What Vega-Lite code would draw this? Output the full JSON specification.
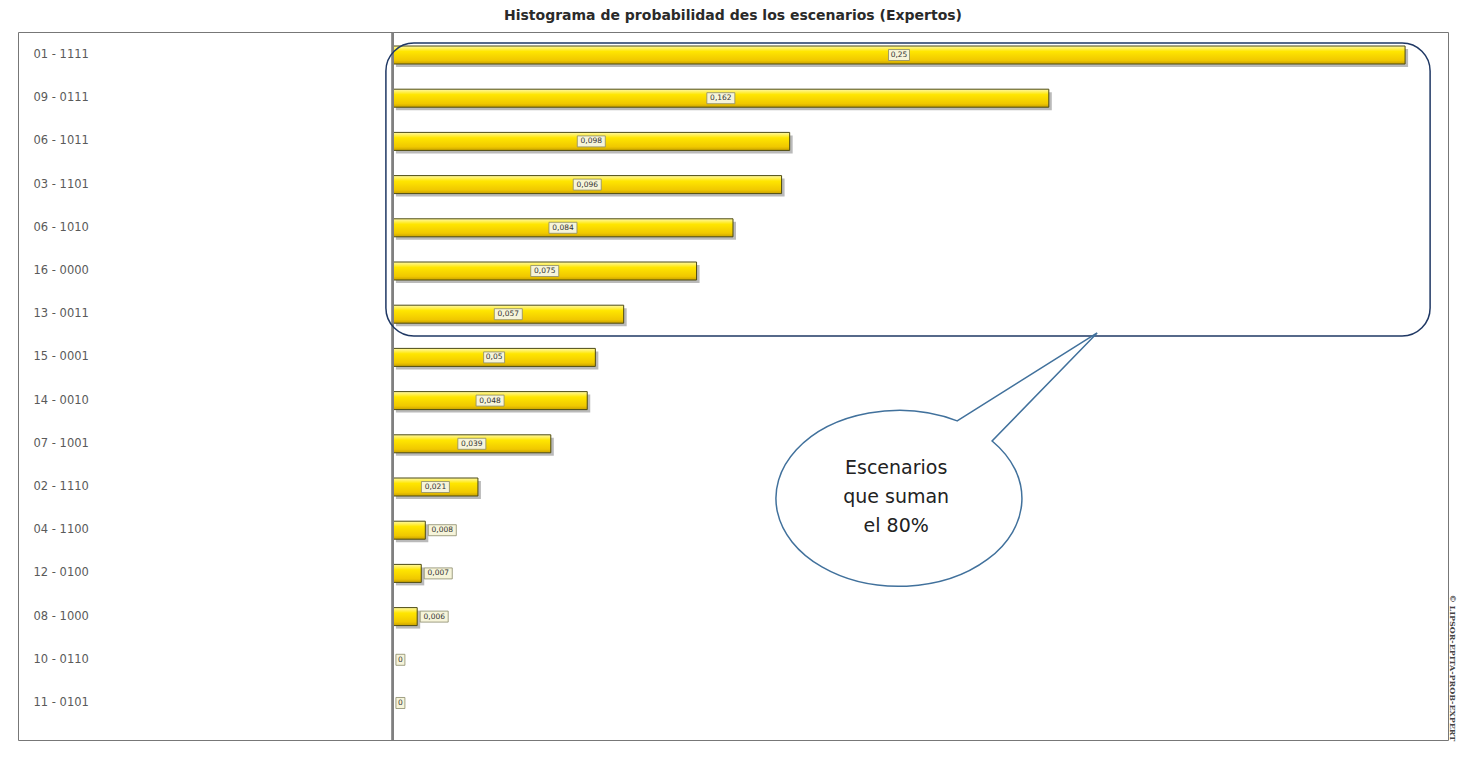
{
  "$schema": "https://vega.github.io/schema/vega-lite/v6.json",
  "autosize": "none",
  "padding": {"left": 18, "top": 32, "right": 12, "bottom": 21},
  "width": 1430,
  "height": 708,
  "background": "white",
  "title": {"text": "Histograma de probabilidad des los escenarios (Expertos)", "fontSize": 14, "font": "DejaVu Sans", "fontWeight": "bold", "offset": 8, "color": "#2a2a2a", "anchor": "middle"},
  "config": {
    "view": {"stroke": "#777777", "strokeWidth": 1},
    "axis": {"domain": false, "ticks": false, "tickSize": 0, "grid": false, "title": null}
  },
  "data": {"values": [
    {"cat": "01 - 1111", "value": 0.25, "label": "0,25"},
    {"cat": "09 - 0111", "value": 0.162, "label": "0,162"},
    {"cat": "06 - 1011", "value": 0.098, "label": "0,098"},
    {"cat": "03 - 1101", "value": 0.096, "label": "0,096"},
    {"cat": "06 - 1010", "value": 0.084, "label": "0,084"},
    {"cat": "16 - 0000", "value": 0.075, "label": "0,075"},
    {"cat": "13 - 0011", "value": 0.057, "label": "0,057"},
    {"cat": "15 - 0001", "value": 0.05, "label": "0,05"},
    {"cat": "14 - 0010", "value": 0.048, "label": "0,048"},
    {"cat": "07 - 1001", "value": 0.039, "label": "0,039"},
    {"cat": "02 - 1110", "value": 0.021, "label": "0,021"},
    {"cat": "04 - 1100", "value": 0.008, "label": "0,008"},
    {"cat": "12 - 0100", "value": 0.007, "label": "0,007"},
    {"cat": "08 - 1000", "value": 0.006, "label": "0,006"},
    {"cat": "10 - 0110", "value": 0, "label": "0"},
    {"cat": "11 - 0101", "value": 0, "label": "0"}
  ]},
  "transform": [
    {"calculate": "length(datum.label)", "as": "n"},
    {"calculate": "datum.n >= 5 ? 14 : (datum.n == 4 ? 10.5 : 4.5)", "as": "hw"},
    {"calculate": "datum.value >= 0.02 ? datum.value / 2 : datum.value + (3 + datum.hw) / 4048", "as": "lx"}
  ],
  "encoding": {
    "y": {
      "field": "cat", "type": "nominal",
      "scale": {"domain": ["01 - 1111","09 - 0111","06 - 1011","03 - 1101","06 - 1010","16 - 0000","13 - 0011","15 - 0001","14 - 0010","07 - 1001","02 - 1110","04 - 1100","12 - 0100","08 - 1000","10 - 0110","11 - 0101"], "range": [1.4, 692.6], "paddingInner": 0, "paddingOuter": 0},
      "axis": {"labelAlign": "left", "labelPadding": -15, "labelFontSize": 11.5, "labelColor": "#5a5a5a", "labelFont": "DejaVu Sans"}
    }
  },
  "layer": [
    {
      "mark": {"type": "bar", "size": 18, "color": "#8c8c8c", "opacity": 0.6, "xOffset": 3, "yOffset": 3},
      "encoding": {"x": {"field": "value", "type": "quantitative", "scale": {"domain": [-0.0926, 0.2606], "nice": false, "zero": false}, "axis": null}}
    },
    {
      "mark": {"type": "bar", "size": 18, "stroke": "#4d4a12", "strokeWidth": 1,
        "color": {"gradient": "linear", "x1": 0, "y1": 0, "x2": 0, "y2": 1, "stops": [
          {"offset": 0, "color": "#FFF9A8"}, {"offset": 0.3, "color": "#FFE600"}, {"offset": 0.8, "color": "#F0C800"}, {"offset": 1, "color": "#C9A200"}]}},
      "encoding": {"x": {"field": "value", "type": "quantitative"}}
    },
    {
      "mark": {"type": "rule", "color": "#808080", "strokeWidth": 2},
      "encoding": {"x": {"datum": 0, "type": "quantitative"}, "y": null}
    },
    {
      "mark": {"type": "point", "filled": true, "fill": "#F6F4DA", "stroke": "#8a8a6a", "strokeWidth": 0.8, "opacity": 1, "size": 1024},
      "encoding": {
        "x": {"field": "lx", "type": "quantitative"},
        "shape": {"field": "n", "type": "nominal", "legend": null, "scale": {"domain": [1, 4, 5], "range": ["M-0.281,-0.344H0.281V0.344H-0.281Z", "M-0.656,-0.344H0.656V0.344H-0.656Z", "M-0.875,-0.344H0.875V0.344H-0.875Z"]}}
      }
    },
    {
      "mark": {"type": "text", "fontSize": 7.5, "font": "DejaVu Sans", "color": "#333333", "align": "center", "baseline": "middle"},
      "encoding": {"x": {"field": "lx", "type": "quantitative"}, "text": {"field": "label"}}
    },
    {
      "data": {"values": [{"x1": -0.00173, "x2": 0.25618}]},
      "mark": {"type": "rect", "filled": false, "stroke": "#1F3864", "strokeWidth": 1.5, "cornerRadius": 28},
      "encoding": {
        "x": {"field": "x1", "type": "quantitative"},
        "x2": {"field": "x2"},
        "y": {"datum": "01 - 1111", "bandPosition": 0.222},
        "y2": {"datum": "15 - 0001", "bandPosition": 0.005}
      }
    },
    {
      "data": {"values": [{"bx": 0.1243}]},
      "mark": {"type": "point", "filled": true, "fill": "white", "stroke": "#41719C", "strokeWidth": 1.5, "opacity": 1, "size": 60516,
        "shape": "M0.496,-0.618L1.634,-1.333L0.78,-0.455A1,0.715 0 1 1 0.496,-0.618Z"},
      "encoding": {
        "x": {"field": "bx", "type": "quantitative"},
        "y": {"datum": "02 - 1110", "bandPosition": 0.73}
      }
    },
    {
      "data": {"values": [{"bx": 0.1243, "t": ["Escenarios", "que suman", "el 80%"]}]},
      "mark": {"type": "text", "fontSize": 19, "font": "DejaVu Sans", "color": "#222222", "align": "center", "baseline": "middle", "lineHeight": 29, "dy": -29},
      "encoding": {
        "x": {"field": "bx", "type": "quantitative"},
        "y": {"datum": "02 - 1110", "bandPosition": 0.73},
        "text": {"field": "t"}
      }
    },
    {
      "data": {"values": [{"sx": 0.2616, "t": "© LIPSOR-EPITA-PROB-EXPERT"}]},
      "mark": {"type": "text", "fontSize": 8, "font": "DejaVu Serif", "fontWeight": "bold", "color": "#444444", "angle": 90, "align": "center", "baseline": "middle"},
      "encoding": {
        "x": {"field": "sx", "type": "quantitative"},
        "y": {"datum": "10 - 0110", "bandPosition": 0.69},
        "text": {"field": "t"}
      }
    }
  ]
}
